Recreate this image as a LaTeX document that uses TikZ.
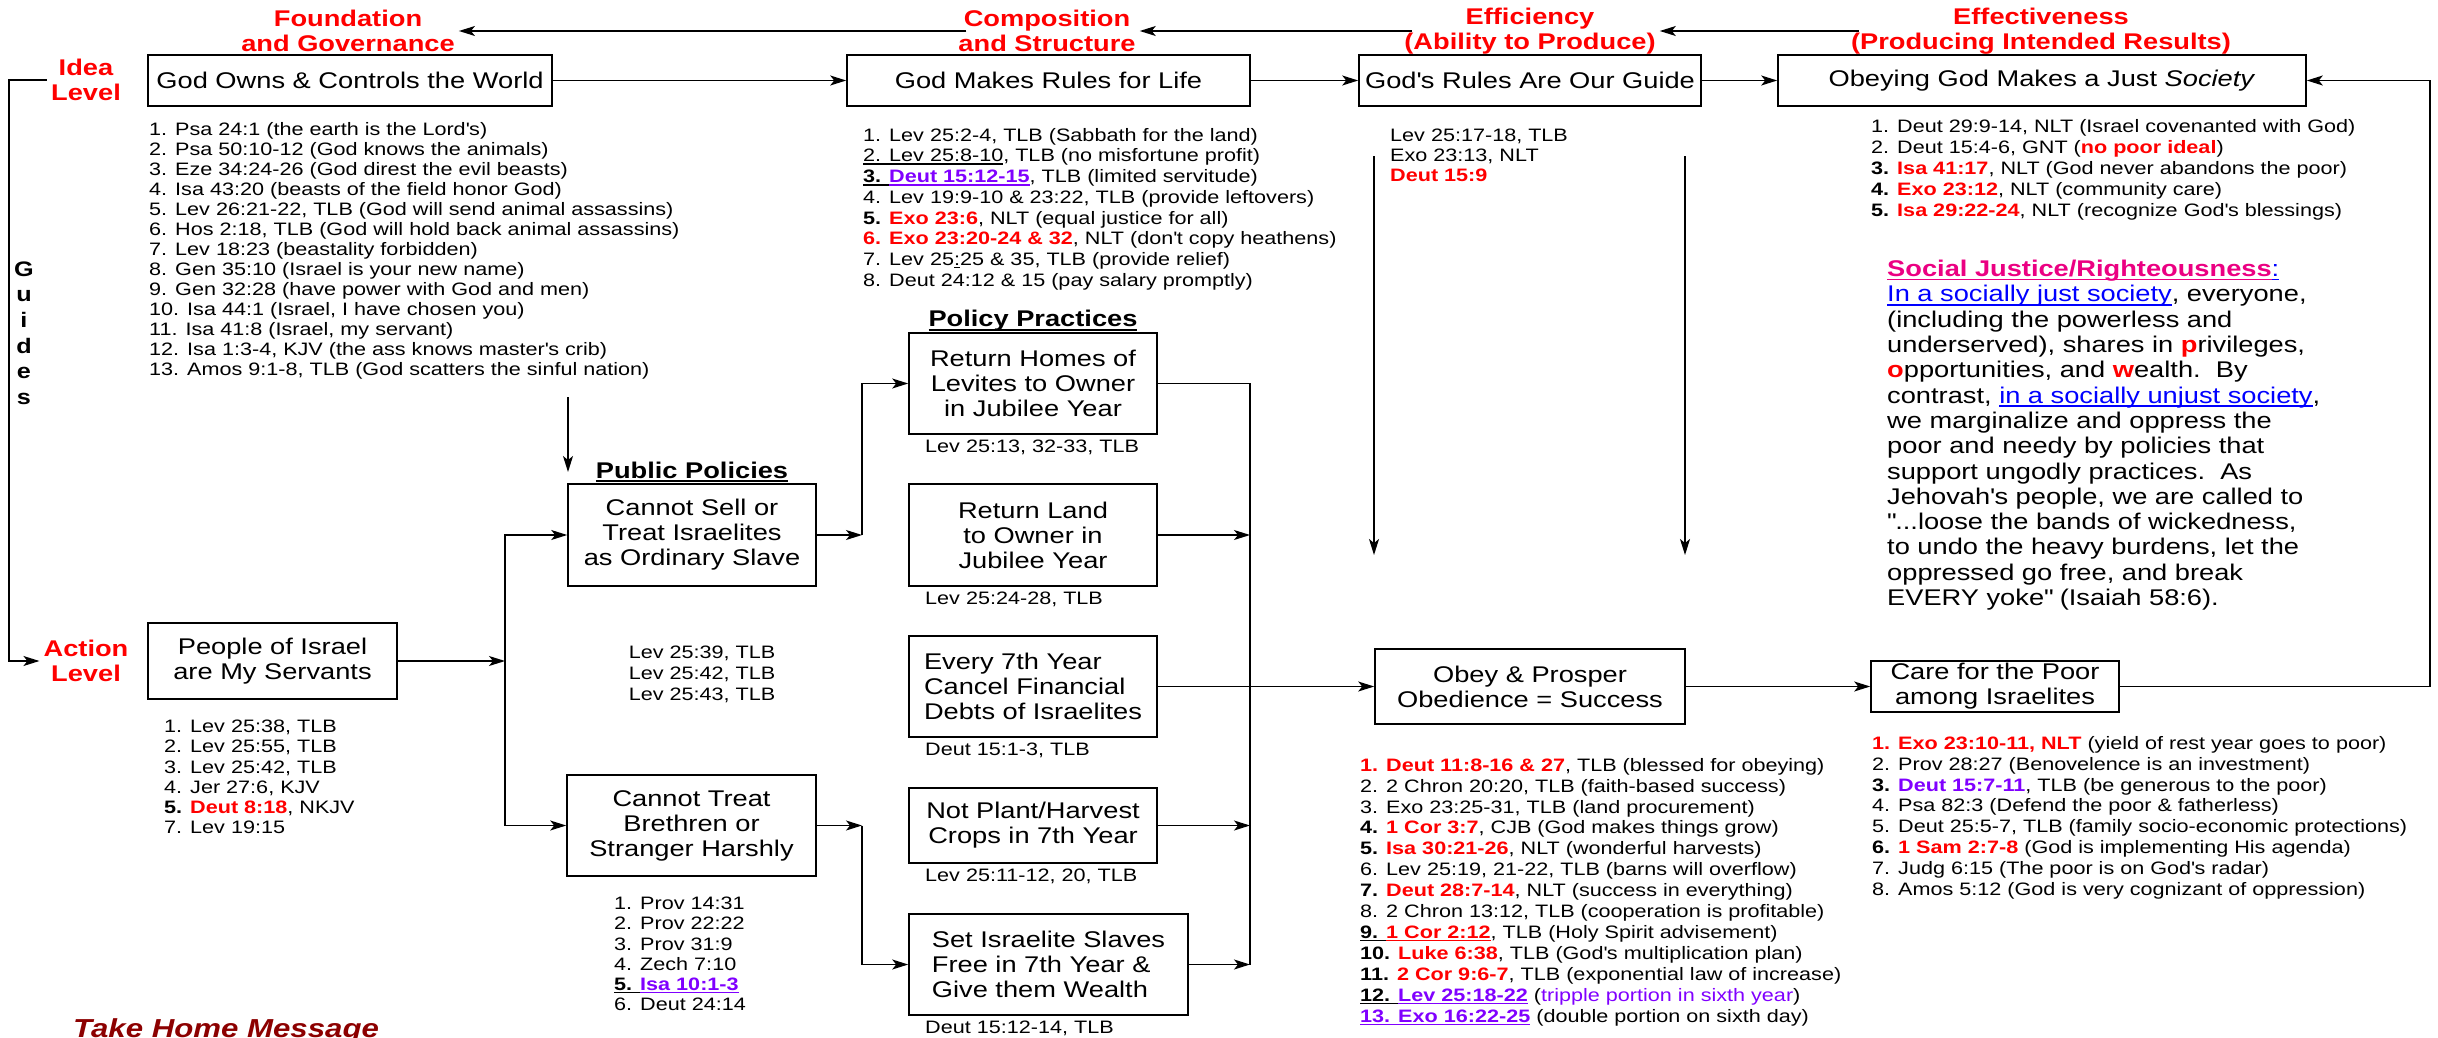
\documentclass[tikz,border=0pt]{standalone}
\usepackage{fontspec}
\setmainfont{Liberation Sans}[FakeStretch=1.2]
\usepackage{tikz}
\usetikzlibrary{
  arrows.meta,
  calc
}
\definecolor{refred}{RGB}{255,0,0}
\definecolor{refpur}{RGB}{128,0,255}
\definecolor{refblue}{RGB}{0,0,255}
\definecolor{refpink}{RGB}{235,0,130}
\definecolor{thmred}{RGB}{140,0,0}
\newcommand{\bigf}{\fontsize{22.7}{25}\selectfont}
\newcommand{\ap}{\textquotesingle}
\newcommand{\qt}{\textquotedbl}
\newcommand{\rb}[1]{\textcolor{refred}{\textbf{#1}}}
\newcommand{\pb}[1]{\textcolor{refpur}{\textbf{#1}}}
\newcommand{\ulin}[1]{\setbox0=\hbox{#1}\rlap{\rule[-0.16em]{\wd0}{0.075em}}\box0\relax}
\tikzset{
  box/.style={draw, line width=1.6pt, inner sep=0pt, align=center, font=\bigf},
  hdr/.style={text=refred, font=\bigf\bfseries, align=center, inner sep=4pt},
  lst/.style={anchor=north west, inner sep=0pt, align=left, font=\fontsize{18}{#1}\selectfont},
  lst/.default=20.5,
  refs/.style={anchor=west, inner sep=0pt, font=\fontsize{18}{21}\selectfont},
  ttl/.style={font=\bigf\bfseries, inner sep=0pt},
  arr/.style={-{Stealth[length=16pt,width=10pt,inset=4pt]}, line width=1.4pt},
  harr/.style={arr, shorten <=-12pt}
}
\begin{document}
\begin{tikzpicture}[x=1pt, y=-1pt]
  \useasboundingbox (0,0) rectangle (2438,1038);
  % headings
  \node[hdr] (fg) at (348,31) {Foundation\\and Governance};
  \node[hdr] (cs) at (1047,31) {Composition\\and Structure};
  \node[hdr] (ef) at (1530,31) {Efficiency\\(Ability to Produce)};
  \node[hdr] (et) at (2041,31) {Effectiveness\\(Producing Intended Results)};
  \draw[harr] (cs.west) -- (fg.east);
  \draw[harr] (ef.west) -- (cs.east);
  \draw[harr] (et.west) -- (ef.east);
  \node[hdr] (idea) at (86,80) {Idea\\Level};
  \node[hdr] (act) at (86,661) {Action\\Level};
  \node[font=\fontsize{21}{25.6}\selectfont\bfseries, align=center, inner sep=0pt] (gds) at (24,333) {G\\u\\i\\d\\e\\s};
  \coordinate (gl) at (9,0);
  \draw[arr] (idea.west) -- (idea.west -| gl) -- (act.west -| gl) -- (act.west);
  % idea level
  \node[box, minimum width=404, minimum height=51] (b1) at (350,80.5) {God Owns \& Controls the World};
  \node[box, minimum width=403, minimum height=51] (b2) at (1048.5,80.5) {God Makes Rules for Life};
  \node[box, minimum width=342, minimum height=51] (b3) at (1530,80.5) {God\ap s Rules Are Our Guide};
  \node[box, minimum width=528, minimum height=51] (b4) at (2042,80.5) {Obeying God Makes a Just \textit{Society}};
  \draw[arr] (b1) -- (b2);
  \draw[arr] (b2) -- (b3);
  \draw[arr] (b3) -- (b4);
  \node[lst=20] (l1) at (149,122) {1. Psa 24:1 (the earth is the Lord\ap s)\\
    2. Psa 50:10-12 (God knows the animals)\\
    3. Eze 34:24-26 (God direst the evil beasts)\\
    4. Isa 43:20 (beasts of the field honor God)\\
    5. Lev 26:21-22, TLB (God will send animal assassins)\\
    6. Hos 2:18, TLB (God will hold back animal assassins)\\
    7. Lev 18:23 (beastality forbidden)\\
    8. Gen 35:10 (Israel is your new name)\\
    9. Gen 32:28 (have power with God and men)\\
    10. Isa 44:1 (Israel, I have chosen you)\\
    11. Isa 41:8 (Israel, my servant)\\
    12. Isa 1:3-4, KJV (the ass knows master\ap s crib)\\
    13. Amos 9:1-8, TLB (God scatters the sinful nation)};
  \node[lst=20.7] (l2) at (863,128) {1. Lev 25:2-4, TLB (Sabbath for the land)\\
    \ulin{2. Lev 25:8-10}, TLB (no misfortune profit)\\
    \ulin{\textbf{3. }}\textcolor{refpur}{\ulin{\textbf{Deut 15:12-15}}}, TLB (limited servitude)\\
    4. Lev 19:9-10 \& 23:22, TLB (provide leftovers)\\
    \textbf{5.} \rb{Exo 23:6}, NLT (equal justice for all)\\
    \rb{6. Exo 23:20-24 \& 32}, NLT (don\ap t copy heathens)\\
    7. Lev 25\ulin{:}25 \& 35, TLB (provide relief)\\
    8. Deut 24:12 \& 15 (pay salary promptly)};
  \node[lst=20] (l3) at (1390,129) {Lev 25:17-18, TLB\\Exo 23:13, NLT\\\rb{Deut 15:9}};
  \node[lst=21] (l4) at (1871,119) {1. Deut 29:9-14, NLT (Israel covenanted with God)\\
    2. Deut 15:4-6, GNT (\rb{no poor ideal})\\
    \textbf{3.} \rb{Isa 41:17}, NLT (God never abandons the poor)\\
    \textbf{4.} \rb{Exo 23:12}, NLT (community care)\\
    \textbf{5.} \rb{Isa 29:22-24}, NLT (recognize God\ap s blessings)};
  \node[anchor=north west, inner sep=0pt, align=left, font=\fontsize{22.7}{25.3}\selectfont] (sj) at (1887,260) {\textcolor{refpink}{\ulin{\textbf{Social Justice/Righteousness}}}\textcolor{refblue}{\ulin{:}}\\
    \textcolor{refblue}{\ulin{In a socially just society}}, everyone,\\
    (including the powerless and\\
    underserved), shares in \rb{p}rivileges,\\
    \rb{o}pportunities, and \rb{w}ealth.\ \ By\\
    contrast, \textcolor{refblue}{\ulin{in a socially unjust society}},\\
    we marginalize and oppress the\\
    poor and needy by policies that\\
    support ungodly practices.\ \ As\\
    Jehovah\ap s people, we are called to\\
    \qt...loose the bands of wickedness,\\
    to undo the heavy burdens, let the\\
    oppressed go free, and break\\
    EVERY yoke\qt{} (Isaiah 58:6).};
  \coordinate (ga) at (1374,156);
  \coordinate (gb) at (1685,156);
  \coordinate (gend) at (0,555);
  \draw[arr] (ga) -- (ga |- gend);
  \draw[arr] (gb) -- (gb |- gend);
  % action level
  \node[box, minimum width=249, minimum height=76] (ppl) at (272.5,661) {People of Israel\\are My Servants};
  \node[lst=20.2] (lppl) at (164,720) {1. Lev 25:38, TLB\\
    2. Lev 25:55, TLB\\
    3. Lev 25:42, TLB\\
    4. Jer 27:6, KJV\\
    \textbf{5.} \rb{Deut 8:18}, NKJV\\
    7. Lev 19:15};
  \node[ttl] (pp) at (692,472) {\ulin{Public Policies}};
  \coordinate (dn) at (568,397);
  \draw[arr] (dn) -- (dn |- pp);
  \node[box, minimum width=248, minimum height=102] (sell) at (692,535) {Cannot Sell or\\Treat Israelites\\as Ordinary Slave};
  \node[align=center, inner sep=0pt, font=\fontsize{18}{21}\selectfont] (lsell) at (702,674) {Lev 25:39, TLB\\Lev 25:42, TLB\\Lev 25:43, TLB};
  \node[box, minimum width=249, minimum height=101] (treat) at (691.5,825.5) {Cannot Treat\\Brethren or\\Stranger Harshly};
  \node[lst=20.2] (ltreat) at (614,897) {1. Prov 14:31\\
    2. Prov 22:22\\
    3. Prov 31:9\\
    4. Zech 7:10\\
    \ulin{\textbf{5. }}\textcolor{refpur}{\ulin{\textbf{Isa 10:1-3}}}\\
    6. Deut 24:14};
  \coordinate (sp) at (505,661);
  \draw[arr] (ppl.east) -- (sp);
  \draw[arr] (sp) |- (sell.west);
  \draw[arr] (sp) |- (treat.west);
  % policy practices
  \node[ttl] (ppr) at (1033,321) {\ulin{Policy Practices}};
  \node[box, minimum width=248, minimum height=101] (homes) at (1033,383.5) {Return Homes of\\Levites to Owner\\in Jubilee Year};
  \node[refs] (rhomes) at (925,447) {Lev 25:13, 32-33, TLB};
  \node[box, minimum width=248, minimum height=102] (land) at (1033,535) {Return Land\\to Owner in\\Jubilee Year};
  \node[refs] (rland) at (925,599) {Lev 25:24-28, TLB};
  \node[box, align=left, minimum width=248, minimum height=101] (debts) at (1033,686.5) {Every 7th Year\\Cancel Financial\\Debts of Israelites};
  \node[refs] (rdebts) at (925,750) {Deut 15:1-3, TLB};
  \node[box, minimum width=248, minimum height=75] (crops) at (1033,825.5) {Not Plant/Harvest\\Crops in 7th Year};
  \node[refs] (rcrops) at (925,876) {Lev 25:11-12, 20, TLB};
  \node[box, align=left, minimum width=279, minimum height=101] (slaves) at (1048.5,964.5) {Set Israelite Slaves\\Free in 7th Year \&\\Give them Wealth};
  \node[refs] (rslaves) at (925,1028) {Deut 15:12-14, TLB};
  \coordinate (bl) at (862,0);
  \coordinate (br) at (1250,0);
  \draw[arr] (sell.east) -- (sell.east -| bl);
  \draw[arr] (treat.east) -- (treat.east -| bl);
  \draw[arr] (sell.east -| bl) |- (homes.west);
  \draw[arr] (treat.east -| bl) |- (slaves.west);
  \draw[line width=1.4pt] (homes.east) -| (slaves.east -| br);
  \draw[arr] (land.east) -- (land.east -| br);
  \draw[arr] (crops.east) -- (crops.east -| br);
  \draw[arr] (slaves.east) -- (slaves.east -| br);
  % results
  \node[box, minimum width=310, minimum height=75] (obey) at (1530,686.5) {Obey \& Prosper\\Obedience = Success};
  \node[lst=20.9] (lobey) at (1360,758) {\rb{1. Deut 11:8-16 \& 27}, TLB (blessed for obeying)\\
    2. 2 Chron 20:20, TLB (faith-based success)\\
    3. Exo 23:25-31, TLB (land procurement)\\
    \textbf{4.} \rb{1 Cor 3:7}, CJB (God makes things grow)\\
    \textbf{5.} \rb{Isa 30:21-26}, NLT (wonderful harvests)\\
    6. Lev 25:19, 21-22, TLB (barns will overflow)\\
    \textbf{7.} \rb{Deut 28:7-14}, NLT (success in everything)\\
    8. 2 Chron 13:12, TLB (cooperation is profitable)\\
    \ulin{\textbf{9. }}\textcolor{refred}{\ulin{\textbf{1 Cor 2:12}}}, TLB (Holy Spirit advisement)\\
    \textbf{10.} \rb{Luke 6:38}, TLB (God\ap s multiplication plan)\\
    \textbf{11.} \rb{2 Cor 9:6-7}, TLB (exponential law of increase)\\
    \ulin{\textbf{12. }}\textcolor{refpur}{\ulin{\textbf{Lev 25:18-22}}} (\textcolor{refpur}{tripple portion in sixth year})\\
    \textcolor{refpur}{\ulin{\textbf{13. Exo 16:22-25}}} (double portion on sixth day)};
  \node[box, minimum width=248, minimum height=51] (care) at (1995,686.5) {Care for the Poor\\among Israelites};
  \node[lst=20.9] (lcare) at (1872,736) {\rb{1. Exo 23:10-11, NLT} (yield of rest year goes to poor)\\
    2. Prov 28:27 (Benovelence is an investment)\\
    \textbf{3.} \pb{Deut 15:7-11}, TLB (be generous to the poor)\\
    4. Psa 82:3 (Defend the poor \& fatherless)\\
    5. Deut 25:5-7, TLB (family socio-economic protections)\\
    \textbf{6.} \rb{1 Sam 2:7-8} (God is implementing His agenda)\\
    7. Judg 6:15 (The poor is on God\ap s radar)\\
    8. Amos 5:12 (God is very cognizant of oppression)};
  \draw[arr] (debts.east) -- (obey.west);
  \draw[arr] (obey.east) -- (care.west);
  \coordinate (fb) at (2430,80.5);
  \draw[arr] (care.east) -| (fb) -- (b4.east);
  \node[anchor=base west, inner sep=0pt, text=thmred, font=\fontsize{26}{30}\selectfont\bfseries\itshape] (thm) at (73,1037) {Take Home Message};
\end{tikzpicture}
\end{document}
